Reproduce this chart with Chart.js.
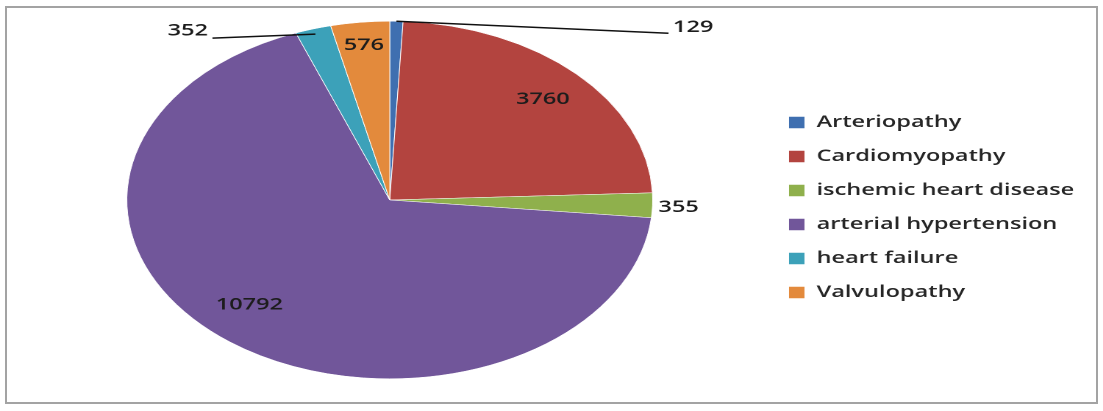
<!DOCTYPE html>
<html>
<head>
<meta charset="utf-8">
<script src="https://cdn.jsdelivr.net/npm/chart.js@4"></script>
<style>
  body { margin: 0; background: #fff; }
  #frame { position: absolute; left: 5px; top: 6px; width: 1089px; height: 394px; border: 2px solid #a3a3a3; }
  #wrap { position: absolute; left: 0; top: 0; width: 750px; height: 411px; transform: scaleX(1.4707); transform-origin: 0 0; }
</style>
</head>
<body>
<div id="frame"></div>
<div id="wrap"><canvas id="myChart" width="750" height="411"></canvas></div>
<script>
// data
var categories = ["Arteriopathy", "Cardiomyopathy", "ischemic heart disease", "arterial hypertension", "heart failure", "Valvulopathy"];
var counts = [129, 3760, 355, 10792, 352, 576];
var colors = ["#3f6fb0", "#b3443f", "#8fb04c", "#71569a", "#3ca1b9", "#e38a3c"];

// how each value label is placed around its slice
var placement = [
  { mode: "line", r: 1.0, lineDx: 185, lineDy: 12, textDx: 3, textDy: -6, align: "left" },
  { mode: "in", r: 0.8, dx: 2.5, dy: 0 },
  { mode: "out", r: 1.0, dx: 4, dy: 2, align: "left" },
  { mode: "in", r: 0.8, dx: -8.6, dy: -8.7 },
  { mode: "line", r: 0.97, lineDx: -70, lineDy: 4, textDx: -3, textDy: -7, align: "right" },
  { mode: "in", r: 0.87, dx: 0, dy: 0 }
];

var valueLabels = {
  id: "valueLabels",
  afterDatasetsDraw: function(chart) {
    var ctx = chart.ctx;
    var meta = chart.getDatasetMeta(0);
    ctx.save();
    ctx.font = "600 16px 'Open Sans'";
    ctx.fillStyle = "#1c1c1c";
    ctx.strokeStyle = "#111";
    ctx.lineWidth = 1.5;
    ctx.textBaseline = "middle";
    meta.data.forEach(function(arc, i) {
      var p = placement[i];
      var mid = (arc.startAngle + arc.endAngle) / 2;
      var ax = arc.x + Math.cos(mid) * arc.outerRadius * p.r;
      var ay = arc.y + Math.sin(mid) * arc.outerRadius * p.r;
      var text = String(counts[i]);
      if (p.mode == "in") {
        ctx.textAlign = "center";
        ctx.fillText(text, ax + p.dx, ay + p.dy);
      } else if (p.mode == "out") {
        ctx.textAlign = p.align;
        ctx.fillText(text, ax + p.dx, ay + p.dy);
      } else {
        var ex = ax + p.lineDx, ey = ay + p.lineDy;
        ctx.beginPath();
        ctx.moveTo(ax, ay);
        ctx.lineTo(ex, ey);
        ctx.stroke();
        ctx.textAlign = p.align;
        ctx.fillText(text, ex + p.textDx, ey + p.textDy);
      }
    });
    ctx.restore();
  }
};

var chart = new Chart(document.getElementById("myChart"), {
  type: "pie",
  data: {
    labels: categories,
    datasets: [{
      data: counts,
      backgroundColor: colors,
      borderColor: "#ffffff",
      borderWidth: 0.5
    }]
  },
  options: {
    responsive: false,
    devicePixelRatio: 2,
    animation: false,
    layout: {
      padding: { left: 11.8, right: 9.6, top: 21, bottom: 32 }
    },
    plugins: {
      tooltip: { enabled: false },
      legend: {
        position: "right",
        align: "center",
        title: { display: true, text: "", font: { size: 10 }, padding: 1.5 },
        labels: {
          boxWidth: 11,
          boxHeight: 12,
          padding: 18,
          color: "#262626",
          font: { family: "'Open Sans'", size: 16, weight: "600" }
        }
      }
    }
  },
  plugins: [valueLabels]
});
</script>
</body>
</html>
